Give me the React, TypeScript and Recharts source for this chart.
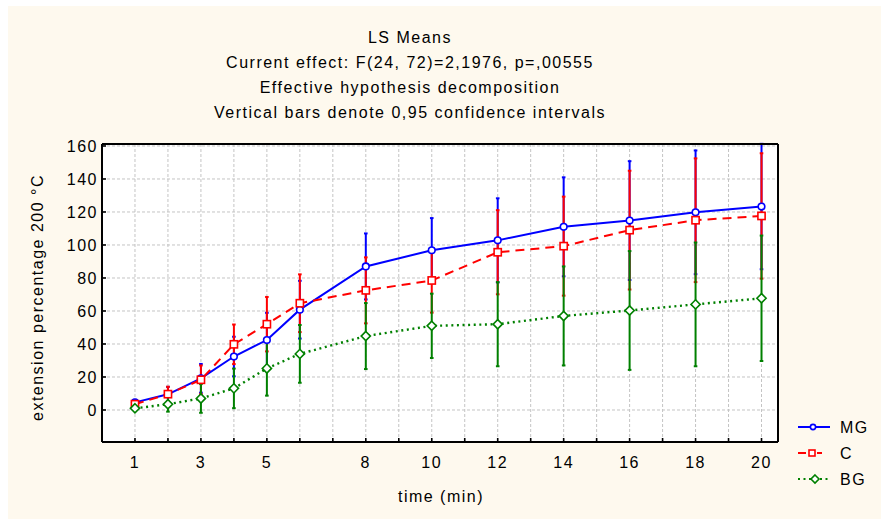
import React from 'react';
import { LineChart, Line, XAxis, YAxis, CartesianGrid, ErrorBar, Legend } from 'recharts';

const times = [1, 2, 3, 4, 5, 6, 8, 10, 12, 14, 16, 18, 20];
const mgMeans = [4.6, 9.5, 19.2, 32.4, 42.4, 60.8, 87, 96.8, 102.8, 111, 114.8, 119.8, 123.3];
const cMeans = [3.5, 9.6, 18.3, 39.8, 52, 64.7, 72.5, 78.5, 95.6, 99.3, 109, 115, 117.6];
const bgMeans = [1, 3.5, 7, 13.1, 25.2, 34, 44.8, 51, 52, 57, 60.3, 64, 67.7];
const ciHalf = [1.5, 4.5, 8.7, 12, 16.5, 17.5, 20, 19.5, 25.5, 30, 36, 37.5, 38];

const seriesOrder = ['MG', 'C', 'BG'];
const xTicks = [1, 2, 3, 4, 5, 6, 7, 8, 9, 10, 11, 12, 13, 14, 15, 16, 17, 18, 19, 20];
const xLabels = [1, 3, 5, 8, 10, 12, 14, 16, 18, 20];
const yTicks = [0, 20, 40, 60, 80, 100, 120, 140, 160];
const topTicks = [0, 1, 2, 3, 4, 5, 6, 7, 8, 9, 10, 11, 12];
const rightTicks = [0, 1, 2, 3, 4, 5, 6, 7, 8, 9, 10];

const titleLines = [
  'LS Means',
  'Current effect: F(24, 72)=2,1976, p=,00555',
  'Effective hypothesis decomposition',
  'Vertical bars denote 0,95 confidence intervals',
];
const xTitle = 'time (min)';
const yTitle = 'extension percentage 200 °C';

const data = times.map((t, i) => ({ t, MG: mgMeans[i], C: cMeans[i], BG: bgMeans[i], ci: ciHalf[i] }));

const BLUE = '#0000ff';
const RED = '#ff0000';
const GREEN = '#008000';
const FONT = '"Liberation Sans", Arial, sans-serif';

const circleDot = (p: any) => (
  <circle key={`mg-${p.index}`} cx={p.cx} cy={p.cy} r={3.3} fill="#fff" stroke={BLUE} strokeWidth={1.6} />
);
const squareDot = (p: any) => (
  <rect key={`c-${p.index}`} x={p.cx - 3.6} y={p.cy - 3.6} width={7.2} height={7.2} fill="#fff" stroke={RED} strokeWidth={1.6} />
);
const diamondDot = (p: any) => (
  <path
    key={`bg-${p.index}`}
    d={`M${p.cx},${p.cy - 4.6}L${p.cx + 4.6},${p.cy}L${p.cx},${p.cy + 4.6}L${p.cx - 4.6},${p.cy}Z`}
    fill="#fff"
    stroke={GREEN}
    strokeWidth={1.6}
  />
);

const LegendContent = (props: any) => {
  const items = (props.payload || [])
    .filter((p: any) => p.type !== 'none' && seriesOrder.includes(p.value))
    .sort((a: any, b: any) => seriesOrder.indexOf(a.value) - seriesOrder.indexOf(b.value));
  return (
    <svg width={90} height={items.length * 26} style={{ display: 'block' }}>
      {items.map((p: any, i: number) => {
        const y = 13 + i * 26;
        let mark = null;
        if (p.value === 'MG') {
          mark = (
            <g>
              <line x1={0} x2={32} y1={y} y2={y} stroke={BLUE} strokeWidth={2} />
              <circle cx={15} cy={y} r={2.6} fill="#fff" stroke={BLUE} strokeWidth={1.6} />
            </g>
          );
        } else if (p.value === 'C') {
          mark = (
            <g>
              <line x1={0} x2={8} y1={y} y2={y} stroke={RED} strokeWidth={2} />
              <line x1={19} x2={24} y1={y} y2={y} stroke={RED} strokeWidth={2} />
              <rect x={11} y={y - 3} width={6} height={6} fill="#fff" stroke={RED} strokeWidth={1.6} />
            </g>
          );
        } else {
          mark = (
            <g>
              <line x1={0} x2={32} y1={y} y2={y} stroke={GREEN} strokeWidth={2} strokeDasharray="2 3.5" />
              <path d={`M17,${y - 4}L21,${y}L17,${y + 4}L13,${y}Z`} fill="#fff" stroke={GREEN} strokeWidth={1.6} />
            </g>
          );
        }
        return (
          <g key={p.value}>
            {mark}
            <text x={42} y={y + 6} fontSize={16} fill="#000">{p.value}</text>
          </g>
        );
      })}
    </svg>
  );
};

const axisLine = { stroke: '#000', strokeWidth: 2 };
const tickLine = { stroke: '#000', strokeWidth: 1.6 };
const tickStyle = { fontSize: 16, fill: '#000' };

export default function App() {
  return (
    <div style={{ position: 'absolute', left: 0, top: 0, width: 881, height: 519, background: '#fff', fontFamily: FONT, letterSpacing: '1.5px' }}>
      <div style={{ position: 'absolute', left: 8, top: 6, width: 873, height: 513, background: '#fef9ee' }}>
        <LineChart width={873} height={513} data={data} margin={{ top: 128, right: 93, bottom: 47, left: 34 }}>
          <CartesianGrid stroke="#c4c4c4" strokeDasharray="3 2" fill="#ffffff" fillOpacity={1} />
          <XAxis
            dataKey="t"
            type="number"
            domain={[0, 20.5]}
            allowDataOverflow
            ticks={xTicks}
            interval={0}
            tickFormatter={(v: number) => (xLabels.includes(v) ? String(v) : '')}
            height={30}
            axisLine={axisLine}
            tickLine={tickLine}
            tickSize={-4}
            tickMargin={19}
            tick={tickStyle}
          />
          <XAxis
            xAxisId="top"
            orientation="top"
            dataKey="t"
            type="number"
            domain={[-0.5, 12.5]}
            allowDataOverflow
            ticks={topTicks}
            interval={0}
            height={10}
            axisLine={axisLine}
            tickLine={tickLine}
            tickSize={-4}
            tick={false}
          />
          <YAxis
            type="number"
            domain={[-19.4, 161.2]}
            allowDataOverflow
            ticks={yTicks}
            interval={0}
            width={60}
            axisLine={axisLine}
            tickLine={tickLine}
            tickSize={-4}
            tickMargin={8}
            tick={tickStyle}
          />
          <YAxis
            yAxisId="right"
            orientation="right"
            type="number"
            domain={[0, 10]}
            allowDataOverflow
            ticks={rightTicks}
            interval={0}
            width={10}
            axisLine={axisLine}
            tickLine={tickLine}
            tickSize={-4}
            tick={false}
          />
          <Legend
            layout="vertical"
            align="center"
            verticalAlign="middle"
            wrapperStyle={{ left: 790, top: 408, width: 90, height: 80 }}
            content={<LegendContent />}
          />
          <Line dataKey="MG" stroke="none" dot={false} activeDot={false} legendType="none" isAnimationActive={false}>
            <ErrorBar dataKey="ci" width={1.8} strokeWidth={2} stroke={BLUE} />
          </Line>
          <Line dataKey="C" stroke="none" dot={false} activeDot={false} legendType="none" isAnimationActive={false}>
            <ErrorBar dataKey="ci" width={1.8} strokeWidth={2} stroke={RED} />
          </Line>
          <Line dataKey="BG" stroke="none" dot={false} activeDot={false} legendType="none" isAnimationActive={false}>
            <ErrorBar dataKey="ci" width={1.8} strokeWidth={2} stroke={GREEN} />
          </Line>
          <Line name="MG" dataKey="MG" type="linear" stroke={BLUE} strokeWidth={2} dot={circleDot} activeDot={false} isAnimationActive={false} />
          <Line name="C" dataKey="C" type="linear" stroke={RED} strokeWidth={2} strokeDasharray="9 6" dot={squareDot} activeDot={false} isAnimationActive={false} />
          <Line name="BG" dataKey="BG" type="linear" stroke={GREEN} strokeWidth={2.4} strokeDasharray="2 3.6" dot={diamondDot} activeDot={false} isAnimationActive={false} />
        </LineChart>
      </div>
      <svg width={881} height={519} style={{ position: 'absolute', left: 0, top: 0, pointerEvents: 'none' }}>
        {titleLines.map((s, i) => (
          <text key={i} x={410} y={43 + i * 25} textAnchor="middle" fontSize={16} fill="#000">{s}</text>
        ))}
        <text x={441} y={502} textAnchor="middle" fontSize={16} fill="#000">{xTitle}</text>
        <text transform="translate(43,297.5) rotate(-90)" textAnchor="middle" fontSize={16} fill="#000">{yTitle}</text>
      </svg>
    </div>
  );
}
